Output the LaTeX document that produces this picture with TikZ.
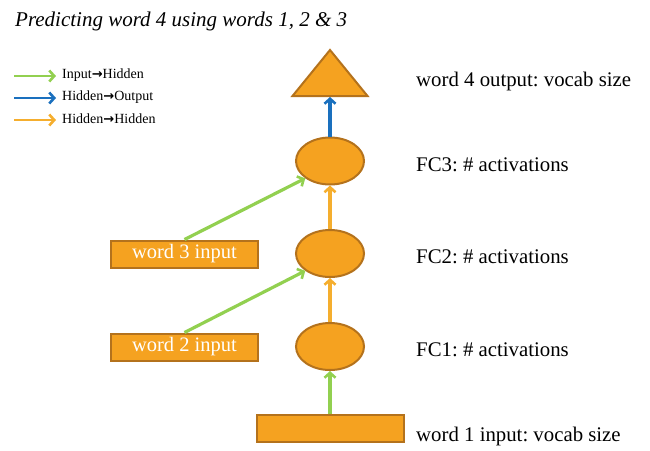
\documentclass[tikz,border=0pt]{standalone}
\usepackage{fontspec}
\setmainfont{Liberation Serif}
\newfontfamily\arrowfont{DejaVu Sans}
\usetikzlibrary{shapes.geometric,arrows.meta}
\definecolor{orfill}{HTML}{F5A220}
\definecolor{ordraw}{HTML}{B4721C}
\definecolor{grn}{HTML}{92D050}
\definecolor{blu}{HTML}{1A70BE}
\definecolor{orarr}{HTML}{F5AE2E}
\frenchspacing
\tikzset{
  hid/.style={ellipse, fill=orfill, draw=ordraw, line width=2pt, minimum width=68pt, minimum height=47pt, inner sep=0pt},
  inbox/.style={rectangle, fill=orfill, draw=ordraw, line width=2pt, minimum height=27pt, inner sep=0pt, text=white, font=\fontsize{20.5}{22}\selectfont},
  lbl/.style={anchor=base west, inner sep=0pt, font=\fontsize{20.8}{24}\selectfont},
  leg/.style={anchor=west, inner sep=0pt, font=\fontsize{14}{16}\selectfont},
  conn/.style={line width=3.2pt, -{Straight Barb[length=5pt,width=11pt,line width=2.6pt]}},
  gconn/.style={conn, draw=grn},
  bconn/.style={conn, draw=blu},
  oconn/.style={conn, draw=orarr},
}
\newcommand{\legarrow}{{\arrowfont\bfseries\fontsize{13}{15}\selectfont →}}
\begin{document}
\begin{tikzpicture}[x=1pt,y=-1pt]
\useasboundingbox (0,0) rectangle (650,450);
% title
\node[anchor=base west, inner sep=0pt, font=\fontsize{21}{24}\itshape] (title) at (15,26) {Predicting word 4 using words 1, 2 \& 3};
% legend
\coordinate (l1a) at (14,76); \coordinate (l1b) at (56,76);
\coordinate (l2a) at (14,98); \coordinate (l2b) at (56,98);
\coordinate (l3a) at (14,120); \coordinate (l3b) at (56,120);
\draw[gconn, line width=2.6pt] (l1a) -- (l1b);
\draw[bconn, line width=2.6pt] (l2a) -- (l2b);
\draw[oconn, line width=2.6pt] (l3a) -- (l3b);
\node[leg] (t1) at (62,75) {Input\legarrow Hidden};
\node[leg] (t2) at (62,97) {Hidden\legarrow Output};
\node[leg] (t3) at (62,119) {Hidden\legarrow Hidden};
% output triangle
\draw[fill=orfill, draw=ordraw, line width=2pt, line join=miter] (330,50) -- (367.5,96) -- (292.5,96) -- cycle;
\coordinate (tri) at (330,97);
% hidden layers
\node[hid] (fc3) at (330,161) {};
\node[hid] (fc2) at (330,253.5) {};
\node[hid] (fc1) at (330,346.5) {};
% inputs
\node[inbox, minimum width=147pt] (w3) at (184.5,254) {word 3 input};
\node[inbox, minimum width=147pt] (w2) at (184.5,347) {word 2 input};
\node[inbox, minimum width=147pt] (w1) at (330,428.5) {};
% labels
\node[lbl] (o4) at (416,86) {word 4 output: vocab size};
\node[lbl] (f3) at (416,171) {FC3: \# activations};
\node[lbl] (f2) at (416,263.5) {FC2: \# activations};
\node[lbl] (f1) at (416,356) {FC1: \# activations};
\node[lbl] (i1) at (416,441) {word 1 input: vocab size};
% connectors
\draw[bconn] (fc3.north) -- (tri);
\draw[oconn] (fc2.north) -- (fc3.south);
\draw[oconn] (fc1.north) -- (fc2.south);
\draw[gconn] (w1.north) -- (fc1.south);
\draw[gconn] (w2.north) -- (fc2.south west);
\draw[gconn] (w3.north) -- (fc3.south west);
\end{tikzpicture}
\end{document}
